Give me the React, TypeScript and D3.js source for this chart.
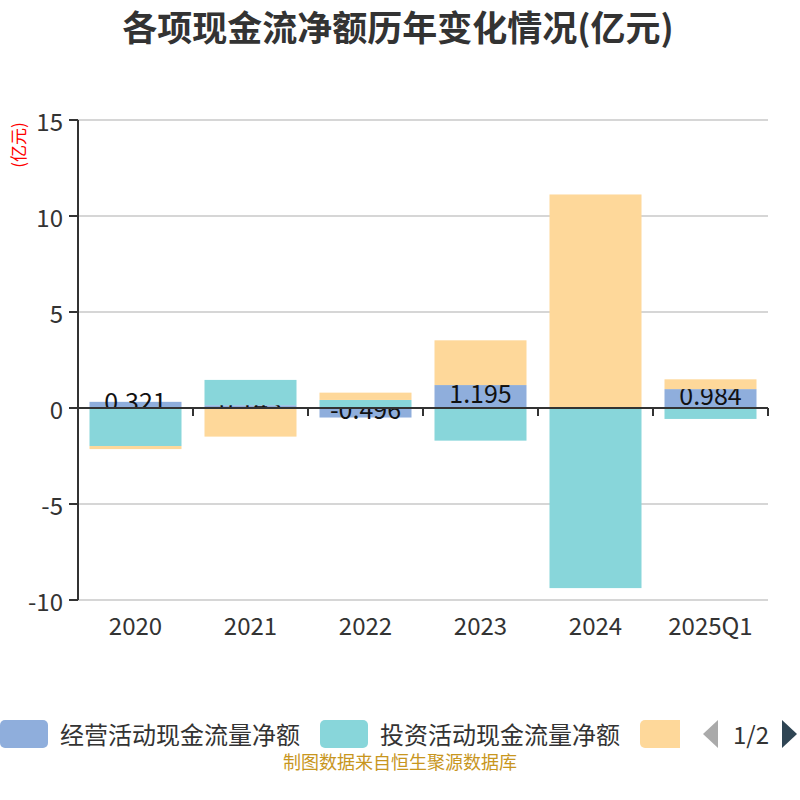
import React from 'react';
import * as d3 from 'd3';

const categories = ['2020', '2021', '2022', '2023', '2024', '2025Q1'];
const operating = [0.321, 0.143, -0.496, 1.195, 0.021, 0.984];
const investing = [-1.98, 1.32, 0.42, -1.7, -9.38, -0.57];
const financing = [-0.16, -1.49, 0.38, 2.33, 11.1, 0.51];
const yTicks = [15, 10, 5, 0, -5, -10];
const seriesNames = ['经营活动现金流量净额', '投资活动现金流量净额', '筹资活动现金流量净额'];
const colors = ['#8faedc', '#88d6da', '#fed89a'];

const FONT = '"Noto Sans CJK SC", "Noto Sans", sans-serif';

export default function App() {
  const W = 800, H = 800;
  const left = 78, right = 768, top = 120, bottom = 600;
  const xOuter = d3.scaleBand<string>().domain(categories).range([left, right]);
  const y = d3.scaleLinear().domain([-10, 15]).range([bottom, top]);
  const y0 = y(0);

  const all = [operating, investing, financing];
  const rects: { s: number; i: number; y1: number; y2: number }[] = [];
  const pos = categories.map(() => 0);
  const neg = categories.map(() => 0);
  all.forEach((vals, s) => {
    vals.forEach((v, i) => {
      if (v >= 0) {
        rects.push({ s, i, y1: pos[i], y2: pos[i] + v });
        pos[i] += v;
      } else {
        rects.push({ s, i, y1: neg[i], y2: neg[i] + v });
        neg[i] += v;
      }
    });
  });

  const bw = xOuter.bandwidth() * 0.8;
  const bx = (c: string) => (xOuter(c) as number) + xOuter.bandwidth() * 0.1;

  const renderRect = (r: { s: number; i: number; y1: number; y2: number }, k: number) => {
    const c = categories[r.i];
    const ya = y(r.y1), yb = y(r.y2);
    return (
      <rect key={k} x={bx(c)} y={Math.min(ya, yb)} width={bw} height={Math.abs(ya - yb)} fill={colors[r.s]} />
    );
  };

  return (
    <div style={{ position: 'absolute', left: 0, top: 0 }}>
      <svg width={W} height={H} style={{ display: 'block', fontFamily: FONT }}>
        <rect width={W} height={H} fill="#fff" />
        <text x={398} y={41} textAnchor="middle" fontSize={35} fontWeight="bold" fill="#333">
          各项现金流净额历年变化情况(亿元)
        </text>
        <text transform={`translate(17,145) rotate(-90)`} textAnchor="middle" dominantBaseline="central" fontSize={17} fill="#ff0000">
          (亿元)
        </text>
        {yTicks.map((t) => (
          <g key={t}>
            {t !== 0 && <line x1={left} x2={right} y1={y(t)} y2={y(t)} stroke="#c8c8c8" strokeWidth={1.5} />}
            <line x1={left - 9} x2={left} y1={y(t)} y2={y(t)} stroke="#333" strokeWidth={2} />
            <text x={left - 15} y={y(t)} textAnchor="end" dominantBaseline="central" fontSize={24} fill="#333">
              {t}
            </text>
          </g>
        ))}
        {rects.filter((r) => r.s === 0).map((r, k) => renderRect(r, k))}
        {operating.map((v, i) => {
          const c = categories[i];
          const cy = (y(0) + y(v)) / 2;
          return (
            <text key={'l' + i} x={bx(c) + bw / 2} y={cy} dy={-5} textAnchor="middle" dominantBaseline="central" fontSize={25} fill="#111">
              {v.toFixed(3)}
            </text>
          );
        })}
        {rects.filter((r) => r.s > 0).map((r, k) => renderRect(r, 100 + k))}
        <line x1={left} x2={left} y1={top} y2={bottom} stroke="#333" strokeWidth={2} />
        <line x1={left} x2={right} y1={y0} y2={y0} stroke="#333" strokeWidth={2} />
        {categories.concat(['_end']).map((c, i) => {
          const xx = left + i * xOuter.bandwidth();
          return <line key={'t' + i} x1={xx} x2={xx} y1={y0} y2={y0 + 8} stroke="#333" strokeWidth={2} />;
        })}
        {categories.map((c) => (
          <text key={'x' + c} x={(xOuter(c) as number) + xOuter.bandwidth() / 2} y={624} textAnchor="middle" dominantBaseline="central" fontSize={24} fill="#333">
            {c}
          </text>
        ))}
        <g>
          <rect x={0} y={720} width={48} height={28} rx={5} fill={colors[0]} />
          <text x={60} y={733} dominantBaseline="central" fontSize={24} fill="#333">{seriesNames[0]}</text>
          <rect x={320} y={720} width={48} height={28} rx={5} fill={colors[1]} />
          <text x={380} y={733} dominantBaseline="central" fontSize={24} fill="#333">{seriesNames[1]}</text>
          <clipPath id="legclip"><rect x={630} y={700} width={50} height={60} /></clipPath>
          <rect x={640} y={720} width={48} height={28} rx={5} fill={colors[2]} clipPath="url(#legclip)" />
          <path d="M718,720 L703,734 L718,748 Z" fill="#aaa" />
          <text x={751} y={733} textAnchor="middle" dominantBaseline="central" fontSize={24} fill="#333">1/2</text>
          <path d="M782,720 L797,734 L782,748 Z" fill="#2f4554" />
        </g>
        <text x={400} y={761} textAnchor="middle" dominantBaseline="central" fontSize={18} fill="#c8961e">
          制图数据来自恒生聚源数据库
        </text>
      </svg>
    </div>
  );
}
